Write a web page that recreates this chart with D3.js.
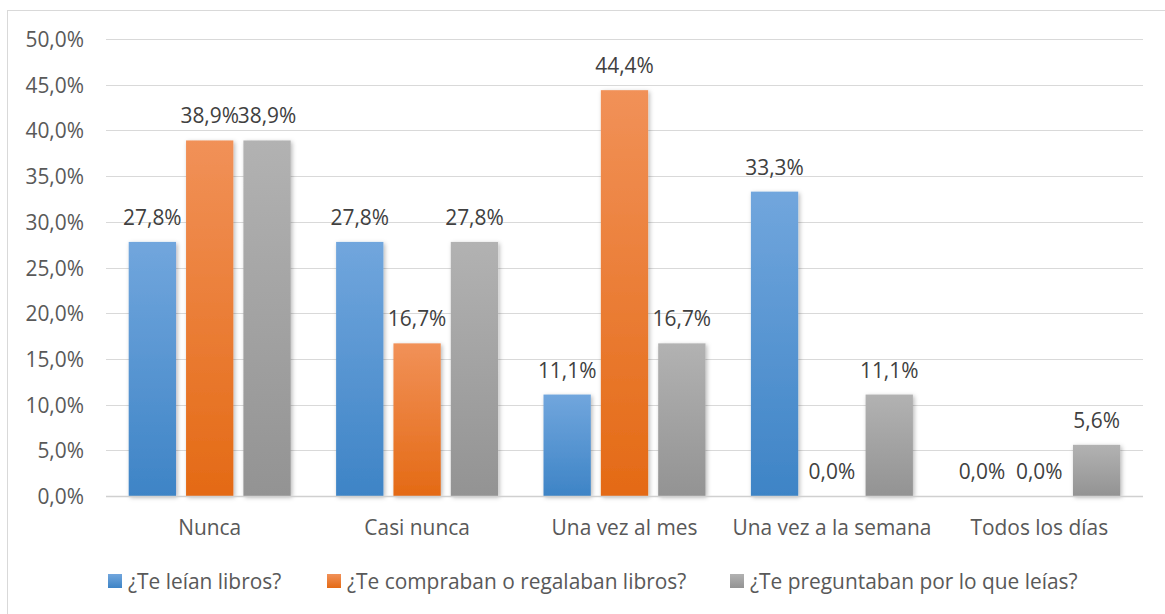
<!DOCTYPE html>
<html>
<head>
<meta charset="utf-8">
<script src="https://cdn.jsdelivr.net/npm/d3@7"></script>
<style>
  html, body { margin: 0; padding: 0; background: #fff; }
  svg { display: block; font-family: "Open Sans", sans-serif; }
</style>
</head>
<body>
<svg id="chart" width="1165" height="614"></svg>
<script>
const categories = ["Nunca", "Casi nunca", "Una vez al mes", "Una vez a la semana", "Todos los días"];
const seriesNames = ["¿Te leían libros?", "¿Te compraban o regalaban libros?", "¿Te preguntaban por lo que leías?"];
const leian = [27.8, 27.8, 11.1, 33.3, 0.0];
const compraban = [38.9, 16.7, 44.4, 0.0, 0.0];
const preguntaban = [38.9, 27.8, 16.7, 11.1, 5.6];
const yTicks = [0, 5, 10, 15, 20, 25, 30, 35, 40, 45, 50];

const seriesValues = [leian, compraban, preguntaban];
const colors = [
  { top: "#71a6dd", bottom: "#3e84c6" },
  { top: "#f19158", bottom: "#e46a15" },
  { top: "#b2b2b2", bottom: "#939393" }
];
const FS = 20.9;
const FONT = "'Open Sans', sans-serif";

const svg = d3.select("#chart");
const W = 1165, H = 614;
const plot = { left: 106, right: 1143, top: 39, bottom: 496 };

svg.append("rect")
  .attr("x", 7.5).attr("y", 10.5)
  .attr("width", W).attr("height", H)
  .attr("fill", "none").attr("stroke", "#d9d9d9").attr("stroke-width", 1);

const defs = svg.append("defs");
colors.forEach((c, i) => {
  const g = defs.append("linearGradient").attr("id", "grad" + i)
    .attr("x1", 0).attr("y1", 0).attr("x2", 0).attr("y2", 1);
  g.append("stop").attr("offset", "0%").attr("stop-color", c.top);
  g.append("stop").attr("offset", "100%").attr("stop-color", c.bottom);
});
const f = defs.append("filter").attr("id", "shadow")
  .attr("x", "-30%").attr("y", "-10%").attr("width", "160%").attr("height", "130%");
f.append("feDropShadow").attr("dx", 1.5).attr("dy", 1.5).attr("stdDeviation", 2)
  .attr("flood-color", "#000").attr("flood-opacity", 0.28);

const y = d3.scaleLinear().domain([0, 50]).range([plot.bottom, plot.top]);
const x0 = d3.scaleBand().domain(categories).range([plot.left, plot.right]).paddingInner(0).paddingOuter(0);
const x1 = d3.scaleBand().domain(d3.range(3)).range([22.7, x0.bandwidth() - 22.7]).paddingInner(0.175).paddingOuter(0);

const fmt = v => d3.format(".1f")(v).replace(".", ",") + "%";

svg.append("g").selectAll("line").data(yTicks.filter(t => t > 0)).join("line")
  .attr("x1", plot.left).attr("x2", plot.right)
  .attr("y1", d => Math.round(y(d)) + 0.5).attr("y2", d => Math.round(y(d)) + 0.5)
  .attr("stroke", "#d9d9d9").attr("stroke-width", 1);

const yAxis = d3.axisLeft(y).tickValues(yTicks).tickFormat(fmt).tickSize(0).tickPadding(0);
const yg = svg.append("g").attr("transform", `translate(84,0)`).call(yAxis);
yg.select(".domain").remove();
yg.selectAll("text").attr("fill", "#595959").attr("font-size", FS)
  .attr("font-family", FONT).attr("dy", 7.5);

const groups = svg.append("g").selectAll("g").data(categories).join("g")
  .attr("transform", d => `translate(${x0(d)},0)`);
groups.each(function(cat, ci) {
  const g = d3.select(this);
  seriesValues.forEach((vals, si) => {
    const v = vals[ci];
    if (v > 0) {
      g.append("rect")
        .attr("x", x1(si)).attr("width", x1.bandwidth())
        .attr("y", y(v)).attr("height", y(0) - y(v))
        .attr("fill", `url(#grad${si})`)
        .attr("filter", "url(#shadow)");
    }
  });
});

svg.append("line")
  .attr("x1", plot.left).attr("x2", plot.right)
  .attr("y1", Math.round(y(0)) + 0.5).attr("y2", Math.round(y(0)) + 0.5)
  .attr("stroke", "#d0d0d0").attr("stroke-width", 1.5);

groups.each(function(cat, ci) {
  const g = d3.select(this);
  seriesValues.forEach((vals, si) => {
    const v = vals[ci];
    g.append("text")
      .attr("x", x1(si) + x1.bandwidth() / 2)
      .attr("y", y(v) - 17)
      .attr("text-anchor", "middle")
      .attr("fill", "#404040").attr("font-size", FS)
      .text(fmt(v));
  });
});

const xAxis = d3.axisBottom(x0).tickSize(0).tickPadding(0);
const xg = svg.append("g").attr("transform", `translate(0,${plot.bottom})`).call(xAxis);
xg.select(".domain").remove();
xg.selectAll("text").attr("fill", "#595959").attr("font-size", FS)
  .attr("font-family", FONT).attr("dy", 0).attr("y", 39);

const legendX = [108, 327, 730];
const lg = svg.append("g").selectAll("g").data(seriesNames).join("g")
  .attr("transform", (d, i) => `translate(${legendX[i]},574)`);
lg.append("rect").attr("width", 14).attr("height", 14).attr("fill", (d, i) => `url(#grad${i})`);
lg.append("text").attr("x", 20).attr("y", 14.5).attr("fill", "#595959")
  .attr("font-size", FS).text(d => d);
</script>
</body>
</html>
